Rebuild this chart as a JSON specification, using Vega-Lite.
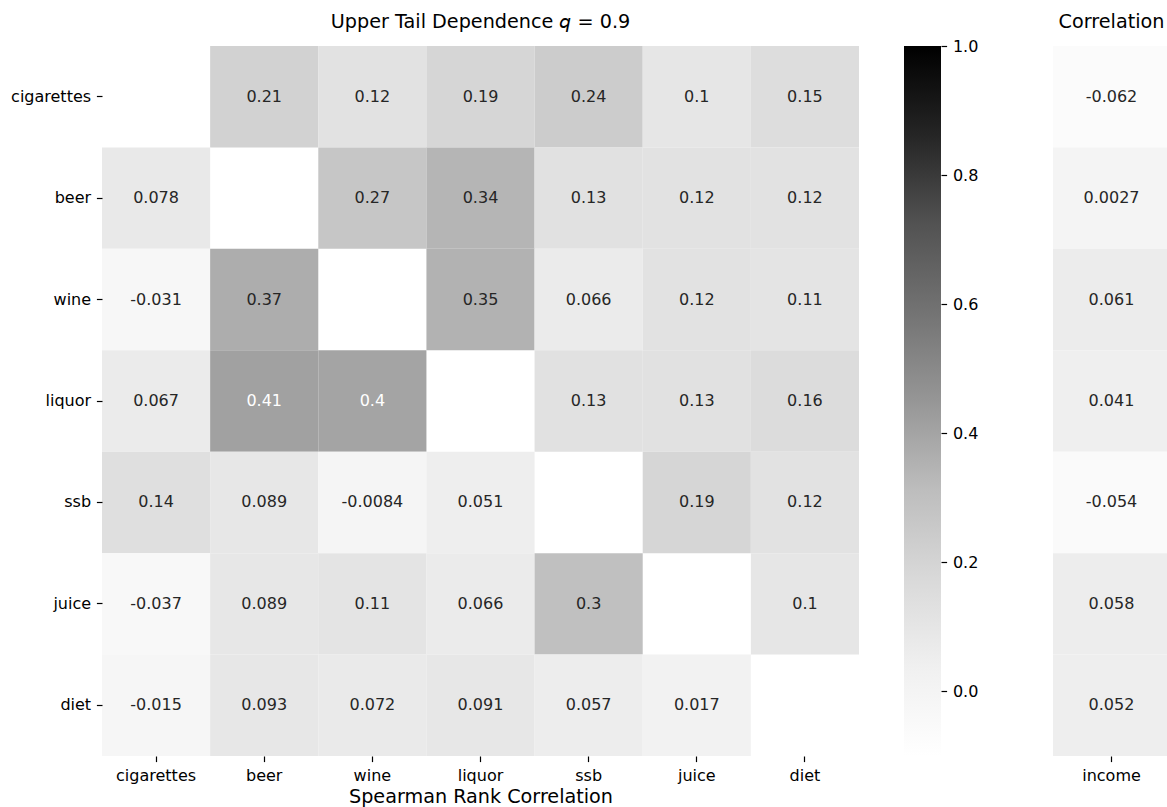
{
  "$schema": "https://vega.github.io/schema/vega-lite/v6.json",
  "padding": {"left": 10, "top": 4, "right": 0, "bottom": 0},
  "background": "white",
  "config": {
    "font": "DejaVu Sans",
    "view": {"stroke": null},
    "locale": {"number": {"decimal": ".", "thousands": ",", "grouping": [3], "currency": ["$", ""], "minus": "-"}},
    "axis": {"domain": false, "grid": false, "tickColor": "#000000", "tickSize": 5.6, "tickWidth": 1.2, "labelColor": "#000000", "labelFontSize": 16, "labelPadding": 5.8, "titleFontSize": 19.2, "titleFontWeight": "normal", "titleColor": "#000000"},
    "title": {"fontSize": 19.2, "fontWeight": "normal", "color": "#000000", "offset": 14, "anchor": "middle"}
  },
  "spacing": 75,
  "hconcat": [
    {
      "spacing": 45,
      "hconcat": [
        {
          "width": 757,
          "height": 710,
          "title": "Upper Tail Dependence \ud835\ude32 = 0.9",
          "data": {"values": [
            {"row": "cigarettes", "col": "beer", "value": 0.21},
            {"row": "cigarettes", "col": "wine", "value": 0.12},
            {"row": "cigarettes", "col": "liquor", "value": 0.19},
            {"row": "cigarettes", "col": "ssb", "value": 0.24},
            {"row": "cigarettes", "col": "juice", "value": 0.1},
            {"row": "cigarettes", "col": "diet", "value": 0.15},
            {"row": "beer", "col": "cigarettes", "value": 0.078},
            {"row": "beer", "col": "wine", "value": 0.27},
            {"row": "beer", "col": "liquor", "value": 0.34},
            {"row": "beer", "col": "ssb", "value": 0.13},
            {"row": "beer", "col": "juice", "value": 0.12},
            {"row": "beer", "col": "diet", "value": 0.12},
            {"row": "wine", "col": "cigarettes", "value": -0.031},
            {"row": "wine", "col": "beer", "value": 0.37},
            {"row": "wine", "col": "liquor", "value": 0.35},
            {"row": "wine", "col": "ssb", "value": 0.066},
            {"row": "wine", "col": "juice", "value": 0.12},
            {"row": "wine", "col": "diet", "value": 0.11},
            {"row": "liquor", "col": "cigarettes", "value": 0.067},
            {"row": "liquor", "col": "beer", "value": 0.41},
            {"row": "liquor", "col": "wine", "value": 0.4},
            {"row": "liquor", "col": "ssb", "value": 0.13},
            {"row": "liquor", "col": "juice", "value": 0.13},
            {"row": "liquor", "col": "diet", "value": 0.16},
            {"row": "ssb", "col": "cigarettes", "value": 0.14},
            {"row": "ssb", "col": "beer", "value": 0.089},
            {"row": "ssb", "col": "wine", "value": -0.0084},
            {"row": "ssb", "col": "liquor", "value": 0.051},
            {"row": "ssb", "col": "juice", "value": 0.19},
            {"row": "ssb", "col": "diet", "value": 0.12},
            {"row": "juice", "col": "cigarettes", "value": -0.037},
            {"row": "juice", "col": "beer", "value": 0.089},
            {"row": "juice", "col": "wine", "value": 0.11},
            {"row": "juice", "col": "liquor", "value": 0.066},
            {"row": "juice", "col": "ssb", "value": 0.3},
            {"row": "juice", "col": "diet", "value": 0.1},
            {"row": "diet", "col": "cigarettes", "value": -0.015},
            {"row": "diet", "col": "beer", "value": 0.093},
            {"row": "diet", "col": "wine", "value": 0.072},
            {"row": "diet", "col": "liquor", "value": 0.091},
            {"row": "diet", "col": "ssb", "value": 0.057},
            {"row": "diet", "col": "juice", "value": 0.017}
          ]},
          "encoding": {
            "x": {"field": "col", "type": "nominal", "sort": ["cigarettes", "beer", "wine", "liquor", "ssb", "juice", "diet"], "scale": {"paddingInner": 0, "paddingOuter": 0}, "axis": {"labelAngle": 0, "title": "Spearman Rank Correlation", "titlePadding": 4}},
            "y": {"field": "row", "type": "nominal", "sort": ["cigarettes", "beer", "wine", "liquor", "ssb", "juice", "diet"], "scale": {"paddingInner": 0, "paddingOuter": 0}, "axis": {"title": null}}
          },
          "layer": [
            {
              "mark": {"type": "rect"},
              "encoding": {
                "color": {"field": "value", "type": "quantitative", "legend": null, "scale": {"type": "linear", "domain": [-0.1, 0.0375, 0.175, 0.3125, 0.45, 0.5875, 0.725, 0.8625, 1.0], "range": ["#ffffff", "#f0f0f0", "#d9d9d9", "#bdbdbd", "#969696", "#737373", "#525252", "#252525", "#000000"], "interpolate": "rgb"}}
              }
            },
            {
              "mark": {"type": "text", "fontSize": 16},
              "encoding": {
                "text": {"field": "value", "type": "quantitative", "format": ".2~g"},
                "color": {"condition": {"test": "datum.value >= 0.4", "value": "#ffffff"}, "value": "#262626"}
              }
            }
          ]
        },
        {
          "width": 37,
          "height": 710,
          "title": " ",
          "data": {"values": [{"k": "colorbar", "lo": -0.1, "hi": 1.0}]},
          "mark": {"type": "rect", "fill": {"gradient": "linear", "x1": 0, "y1": 1, "x2": 0, "y2": 0, "stops": [
            {"offset": 0, "color": "#ffffff"},
            {"offset": 0.125, "color": "#f0f0f0"},
            {"offset": 0.25, "color": "#d9d9d9"},
            {"offset": 0.375, "color": "#bdbdbd"},
            {"offset": 0.5, "color": "#969696"},
            {"offset": 0.625, "color": "#737373"},
            {"offset": 0.75, "color": "#525252"},
            {"offset": 0.875, "color": "#252525"},
            {"offset": 1, "color": "#000000"}
          ]}},
          "encoding": {
            "x": {"field": "k", "type": "nominal", "scale": {"paddingInner": 0, "paddingOuter": 0}, "axis": null},
            "y": {"field": "lo", "type": "quantitative", "scale": {"domain": [-0.1, 1.0], "nice": false, "zero": false}, "axis": {"orient": "right", "values": [0, 0.2, 0.4, 0.6, 0.8, 1.0], "format": ".1f", "title": null}},
            "y2": {"field": "hi"}
          }
        }
      ]
    },
    {
      "width": 117,
      "height": 710,
      "title": "Correlation",
      "data": {"values": [
        {"row": "cigarettes", "var": "income", "value": -0.062},
        {"row": "beer", "var": "income", "value": 0.0027},
        {"row": "wine", "var": "income", "value": 0.061},
        {"row": "liquor", "var": "income", "value": 0.041},
        {"row": "ssb", "var": "income", "value": -0.054},
        {"row": "juice", "var": "income", "value": 0.058},
        {"row": "diet", "var": "income", "value": 0.052}
      ]},
      "encoding": {
        "x": {"field": "var", "type": "nominal", "scale": {"paddingInner": 0, "paddingOuter": 0}, "axis": {"labelAngle": 0, "title": null}},
        "y": {"field": "row", "type": "nominal", "sort": ["cigarettes", "beer", "wine", "liquor", "ssb", "juice", "diet"], "scale": {"paddingInner": 0, "paddingOuter": 0}, "axis": null}
      },
      "layer": [
        {
          "mark": {"type": "rect"},
          "encoding": {
            "color": {"field": "value", "type": "quantitative", "legend": null, "scale": {"type": "linear", "domain": [-0.1, 0.0375, 0.175, 0.3125, 0.45, 0.5875, 0.725, 0.8625, 1.0], "range": ["#ffffff", "#f0f0f0", "#d9d9d9", "#bdbdbd", "#969696", "#737373", "#525252", "#252525", "#000000"], "interpolate": "rgb"}}
          }
        },
        {
          "mark": {"type": "text", "fontSize": 16},
          "encoding": {
            "text": {"field": "value", "type": "quantitative", "format": ".2~g"},
            "color": {"condition": {"test": "datum.value >= 0.4", "value": "#ffffff"}, "value": "#262626"}
          }
        }
      ]
    }
  ]
}
